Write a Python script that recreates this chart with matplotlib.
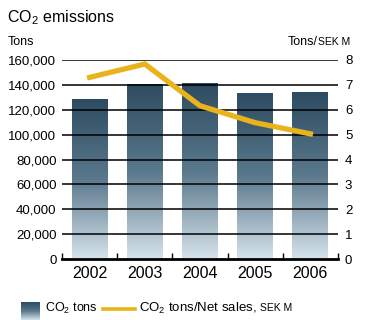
import matplotlib
matplotlib.use("Agg")
import matplotlib.pyplot as plt
import numpy as np
from matplotlib.colors import LinearSegmentedColormap
from matplotlib.lines import Line2D

plt.rcParams['font.family'] = ['Liberation Sans', 'DejaVu Sans']
plt.rcParams['mathtext.default'] = 'regular'

years = ["2002", "2003", "2004", "2005", "2006"]
co2_tons = [129000, 141000, 141500, 133500, 134300]
tons_per_sales = [7.30, 7.84, 6.16, 5.48, 5.03]
left_ticks = [0, 20000, 40000, 60000, 80000, 100000, 120000, 140000, 160000]
right_ticks = [0, 1, 2, 3, 4, 5, 6, 7, 8]

dark = "#2e4c61"
mid = "#5a788c"
light = "#d6e3ec"
gold = "#e9b31c"
cmap = LinearSegmentedColormap.from_list("bar", [light, mid, dark])

fig = plt.figure(figsize=(3.7, 3.2), dpi=100)
ax = fig.add_axes([62 / 370, 1 - 259 / 320, 276 / 370, 199 / 320])
ax.set_xlim(-0.5, 4.5)
ax.set_ylim(0, 160000)

x = np.arange(len(years))
bars = ax.bar(x, co2_tons, width=0.65, color="none", zorder=1)
grad = np.linspace(0, 1, 256).reshape(-1, 1)
for b in bars:
    im = ax.imshow(grad, cmap=cmap, origin="lower", aspect="auto",
                   extent=[b.get_x(), b.get_x() + b.get_width(), 0, b.get_height()],
                   vmin=0, vmax=1, zorder=1)
    im.set_clip_path(b)

for t in left_ticks[1:]:
    ax.axhline(t, color="black", lw=1.1, zorder=2)

for s in ["top", "right", "left"]:
    ax.spines[s].set_visible(False)
ax.spines["bottom"].set_linewidth(2)
ax.spines["bottom"].set_zorder(3)

ax.set_xticks(x)
ax.set_xticklabels(years, fontsize=11.5)
ax.tick_params(axis="x", length=0, pad=5)
ax.set_xticks(np.arange(-0.5, 5, 1), minor=True)
ax.tick_params(axis="x", which="minor", direction="in", length=4, width=1)
ax.set_yticks(left_ticks)
ax.set_yticklabels([f"{v:,}" for v in left_ticks], fontsize=9.5)
ax.tick_params(axis="y", length=0, pad=4)

ax2 = ax.twinx()
ax2.set_ylim(0, 8)
ax2.plot(x, tons_per_sales, color=gold, lw=3.8, solid_joinstyle="miter", zorder=4)
for s in ["top", "left", "bottom", "right"]:
    ax2.spines[s].set_visible(False)
ax2.set_yticks(right_ticks)
ax2.set_yticklabels([str(v) for v in right_ticks], fontsize=9.5)
ax2.tick_params(axis="y", length=0, pad=5)

fig.text(7 / 370, 1 - 18 / 320, "CO$_2$ emissions", fontsize=11.5, va="center")
fig.text(8 / 370, 1 - 42 / 320, "Tons", fontsize=9, va="center")

renderer = fig.canvas.get_renderer()
sek = fig.text(350 / 370, 1 - 42 / 320, "SEK M", fontsize=7.5, va="center", ha="right")
bb = sek.get_window_extent(renderer)
fig.text(bb.x0 / 370 + 0.001, 1 - 42 / 320, "Tons/", fontsize=9, va="center", ha="right")

# legend
lx = fig.add_axes([21 / 370, 0, 19 / 370, 18 / 320])
lx.imshow(grad, cmap=cmap, origin="lower", aspect="auto", vmin=0, vmax=1)
lx.axis("off")
fig.text(45 / 370, 1 - 308 / 320, "CO$_2$ tons", fontsize=9, va="center")
fig.add_artist(Line2D([103 / 370, 135 / 370], [1 - 309 / 320] * 2, color=gold, lw=2.6,
                      transform=fig.transFigure))
t2 = fig.text(139 / 370, 1 - 308 / 320, "CO$_2$ tons/Net sales,", fontsize=9.5, va="center")
bb2 = t2.get_window_extent(renderer)
fig.text(bb2.x1 / 370 + 0.008, 1 - 308 / 320, "SEK M", fontsize=7.5, va="center")

fig.savefig("out.png", dpi=100)
